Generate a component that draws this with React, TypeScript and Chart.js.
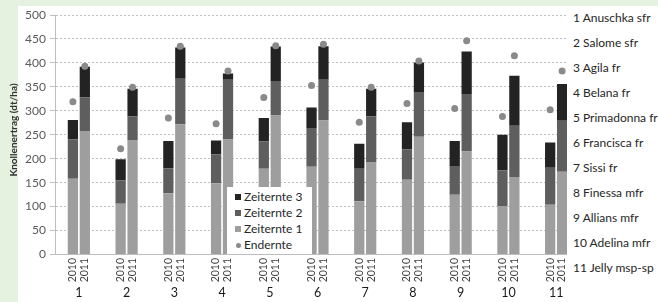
import React, { useEffect, useRef } from "react";
import { Chart, registerables } from "chart.js";

Chart.register(...registerables);

// ---- data ----
const groups = ["1", "2", "3", "4", "5", "6", "7", "8", "9", "10", "11"];
const years = ["2010", "2011"];
const varieties = [
  "1 Anuschka sfr",
  "2 Salome sfr",
  "3 Agila fr",
  "4 Belana fr",
  "5 Primadonna fr",
  "6 Francisca fr",
  "7 Sissi fr",
  "8 Finessa mfr",
  "9 Allians mfr",
  "10 Adelina mfr",
  "11 Jelly msp-sp",
];
const yTicks = [0, 50, 100, 150, 200, 250, 300, 350, 400, 450, 500];

// cumulative yields (dt/ha) at each harvest date
const ze1_2010 = [158, 106, 128, 149, 179, 183, 111, 156, 125, 101, 104];
const ze2_2010 = [240, 155, 180, 209, 236, 264, 179, 219, 185, 176, 181];
const ze3_2010 = [281, 199, 237, 238, 285, 307, 231, 276, 237, 250, 234];
const end_2010 = [319, 221, 285, 273, 328, 353, 276, 315, 305, 288, 302];

const ze1_2011 = [258, 239, 272, 240, 290, 280, 193, 246, 215, 162, 173];
const ze2_2011 = [328, 288, 367, 365, 362, 365, 288, 339, 335, 269, 279];
const ze3_2011 = [392, 346, 432, 378, 434, 435, 346, 401, 424, 373, 356];
const end_2011 = [393, 349, 435, 383, 436, 439, 349, 404, 446, 415, 383];

const seriesNames = ["Zeiternte 1", "Zeiternte 2", "Zeiternte 3", "Endernte"];

// ---- styles ----
const C_ZE1 = "#9e9e9e";
const C_ZE2 = "#5e5e5e";
const C_ZE3 = "#232323";
const C_END = "#8a8a8a";
const FONT = "Lato, 'Noto Sans', sans-serif";

const yearData = [
  { year: years[0], c: [ze1_2010, ze2_2010, ze3_2010], end: end_2010 },
  { year: years[1], c: [ze1_2011, ze2_2011, ze3_2011], end: end_2011 },
];

const overlayPlugin = {
  id: "overlay",
  afterDatasetsDraw(chart: any) {
    const ctx = chart.ctx;
    const yS = chart.scales.y;
    const xS = chart.scales.x;
    ctx.save();
    yearData.forEach((yd, k) => {
      const meta = chart.getDatasetMeta(k * 3);
      meta.data.forEach((bar: any, i: number) => {
        // Endernte dot
        ctx.beginPath();
        ctx.fillStyle = C_END;
        ctx.arc(bar.x, yS.getPixelForValue(yd.end[i]), 3.5, 0, Math.PI * 2);
        ctx.fill();
        // year label
        ctx.save();
        ctx.translate(bar.x, yS.bottom + 3.5);
        ctx.rotate(-Math.PI / 2);
        ctx.font = `10.5px ${FONT}`;
        ctx.fillStyle = "#404040";
        ctx.textAlign = "right";
        ctx.textBaseline = "middle";
        ctx.fillText(yd.year, 0, 0);
        ctx.restore();
      });
    });
    // group labels
    ctx.font = `12.5px ${FONT}`;
    ctx.fillStyle = "#1a1a1a";
    ctx.textAlign = "center";
    ctx.textBaseline = "middle";
    groups.forEach((g, i) => {
      ctx.fillText(g, xS.getPixelForValue(i), 293);
    });
    // y title
    ctx.save();
    ctx.translate(14, 130);
    ctx.rotate(-Math.PI / 2);
    ctx.font = `bold 10px ${FONT}`;
    ctx.fillStyle = "#333333";
    ctx.textAlign = "center";
    ctx.textBaseline = "middle";
    ctx.fillText("Knollenertrag (dt/ha)", 0, 0);
    ctx.restore();
    ctx.restore();
  },
};

export default function App() {
  const ref = useRef<HTMLCanvasElement | null>(null);

  useEffect(() => {
    if (!ref.current) return;
    const colors = [C_ZE1, C_ZE2, C_ZE3];
    const datasets: any[] = [];
    yearData.forEach((yd) => {
      yd.c.forEach((arr, s) => {
        const lower = s === 0 ? null : yd.c[s - 1];
        datasets.push({
          label: seriesNames[s] + " " + yd.year,
          data: arr.map((v, i) => [lower ? lower[i] : 0, v]),
          backgroundColor: colors[s],
          borderWidth: 0,
          stack: yd.year,
          categoryPercentage: 0.5,
          barPercentage: 0.86,
        });
      });
    });

    const chart = new Chart(ref.current, {
      type: "bar",
      data: { labels: groups, datasets },
      options: {
        animation: false,
        responsive: false,
        devicePixelRatio: 1,
        layout: { padding: { left: 0, top: 15, right: 78, bottom: 0 } },
        plugins: { legend: { display: false }, tooltip: { enabled: false } },
        scales: {
          x: {
            type: "category",
            offset: true,
            grid: { display: false },
            border: { display: true, color: "#bdbdbd", width: 1 },
            ticks: { display: false },
            afterFit: (s: any) => {
              s.height = 47.5;
            },
          },
          y: {
            stacked: false,
            min: 0,
            max: 500,
            afterBuildTicks: (s: any) => {
              s.ticks = yTicks.map((v) => ({ value: v }));
            },
            ticks: {
              color: "#595959",
              font: { family: FONT, size: 12 },
              padding: 4,
            },
            grid: {
              color: "#bfbfbf",
              lineWidth: 1,
              tickLength: 5,
              tickColor: "#bfbfbf",
              tickBorderDash: [],
            },
            border: { display: true, color: "#bdbdbd", width: 1, dash: [2, 2] },
            afterFit: (s: any) => {
              s.width = 55;
            },
          },
        },
      } as any,
      plugins: [overlayPlugin],
    });
    return () => chart.destroy();
  }, []);

  const legendItems = [
    { name: seriesNames[2], color: C_ZE3, dot: false },
    { name: seriesNames[1], color: C_ZE2, dot: false },
    { name: seriesNames[0], color: C_ZE1, dot: false },
    { name: seriesNames[3], color: C_END, dot: true },
  ];

  return (
    <div
      style={{
        position: "fixed",
        left: 0,
        top: 0,
        width: 658,
        height: 302,
        background: "#e6f2e0",
        overflow: "hidden",
        fontFamily: FONT,
      }}
    >
      <div
        style={{
          position: "absolute",
          left: 18,
          top: 6,
          width: 640,
          height: 296,
          background: "#ffffff",
        }}
      />
      <canvas
        ref={ref}
        width={658}
        height={302}
        style={{ position: "absolute", left: 0, top: 0, width: 658, height: 302 }}
      />
      <div
        style={{
          position: "absolute",
          left: 567,
          top: 6,
          width: 91,
          height: 296,
          background: "#ffffff",
        }}
      >
        {varieties.map((v, i) => (
          <div
            key={v}
            style={{
              position: "absolute",
              left: 6,
              top: 18 + 25 * i - 6 - 10,
              height: 20,
              lineHeight: "20px",
              fontSize: 12,
              color: "#262626",
              whiteSpace: "nowrap",
            }}
          >
            {v}
          </div>
        ))}
      </div>
      <div
        style={{
          position: "absolute",
          left: 227,
          top: 187,
          width: 85,
          height: 67,
          background: "#ffffff",
        }}
      >
        {legendItems.map((it, i) => (
          <div
            key={it.name}
            style={{
              position: "absolute",
              left: 0,
              top: 10 + 16 * i - 8,
              height: 16,
              lineHeight: "16px",
              fontSize: 12,
              color: "#262626",
              whiteSpace: "nowrap",
            }}
          >
            <span
              style={{
                position: "absolute",
                left: it.dot ? 9 : 8,
                top: it.dot ? 6 : 5,
                width: it.dot ? 5 : 6,
                height: it.dot ? 5 : 6,
                borderRadius: it.dot ? "50%" : 0,
                background: it.color,
              }}
            />
            <span style={{ position: "absolute", left: 17 }}>{it.name}</span>
          </div>
        ))}
      </div>
    </div>
  );
}
